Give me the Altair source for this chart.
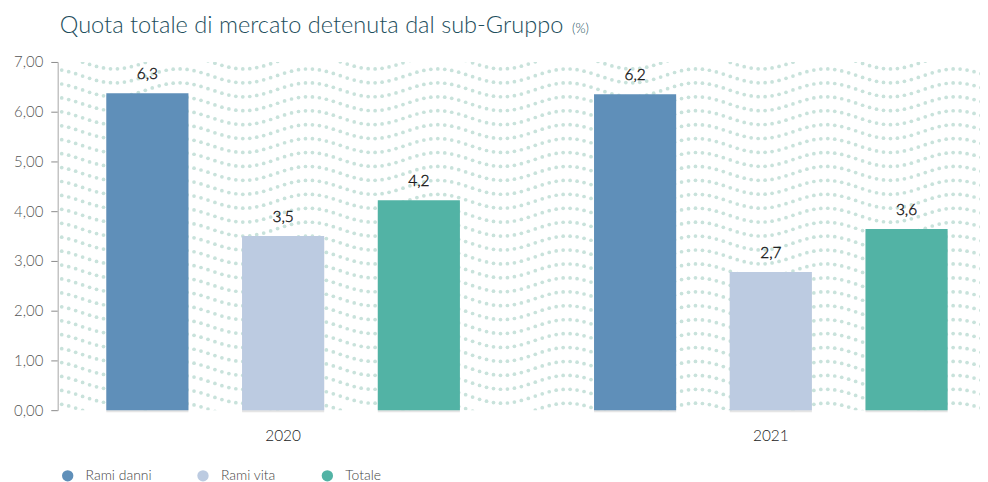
import altair as alt
import pandas as pd
import numpy as np

# ---- data ----
anni = ["2020", "2020", "2020", "2021", "2021", "2021"]
serie = ["Rami danni", "Rami vita", "Totale", "Rami danni", "Rami vita", "Totale"]
valori = [6.37, 3.50, 4.22, 6.35, 2.78, 3.64]
etichette = ["6,3", "3,5", "4,2", "6,2", "2,7", "3,6"]
legenda = ["Rami danni", "Rami vita", "Totale"]
colori = ["#5f8fb9", "#bccbe1", "#52b3a5"]
y_ticks = [0, 1, 2, 3, 4, 5, 6, 7]
titolo = "Quota totale di mercato detenuta dal sub-Gruppo"
unita = "(%)"

W, H = 927, 350
FONT = "Lato"

df = pd.DataFrame({"anno": anni, "serie": serie, "valore": valori, "etichetta": etichette})

# ---- decorative wavy dotted background texture (not data) ----
xs = np.arange(4, W + 4, 7.0)
rows = np.arange(-14, H + 21, 14.0)
pts = [(x, r + 7 * np.cos(2 * np.pi * (x + 58 - 570) / 130)) for r in rows for x in xs]
tex = pd.DataFrame(pts, columns=["px", "py"])

pattern = alt.Chart(tex).mark_circle(size=14, color="#c8e2db", opacity=1, clip=True).encode(
    x=alt.X("px:Q", scale=alt.Scale(domain=[0, W], nice=False, zero=False), axis=None),
    y=alt.Y("py:Q", scale=alt.Scale(domain=[0, H], nice=False, zero=False), axis=None),
)

xscale = alt.Scale(paddingInner=0.275, paddingOuter=0.083, align=0.6)
xenc = alt.X(
    "anno:N",
    title=None,
    scale=xscale,
    axis=alt.Axis(domain=False, ticks=False, labelPadding=18, labelFontSize=15.5,
                  labelFont=FONT, labelFontWeight=300, labelColor="#222", labelAngle=0),
)
xoff = alt.XOffset("serie:N", scale=alt.Scale(domain=legenda, paddingInner=0.395, paddingOuter=0))
yenc = alt.Y(
    "valore:Q",
    title=None,
    scale=alt.Scale(domain=[0, 7], nice=False),
    axis=alt.Axis(values=y_ticks, labelExpr="replace(format(datum.value, '.2f'), '.', ',')",
                  grid=False, domainColor="#c4c4c4", domainWidth=1.5, tickColor="#8a8a8a",
                  tickSize=7, labelPadding=8, labelFontSize=15, labelFont=FONT,
                  labelFontWeight=300, labelColor="#555"),
)

base = alt.Chart(df)

shadow = base.mark_bar(color="#a8a8a8", opacity=0.3, xOffset=3, yOffset=2).encode(
    x=xenc, xOffset=xoff, y=yenc,
)

bars = base.mark_bar().encode(
    x=xenc,
    xOffset=xoff,
    y=yenc,
    color=alt.Color(
        "serie:N",
        scale=alt.Scale(domain=legenda, range=colori),
        legend=alt.Legend(title=None, orient="none", legendX=3, legendY=409,
                          direction="horizontal", symbolType="circle", symbolSize=130,
                          symbolStrokeWidth=0, labelFontSize=14, labelFont=FONT,
                          labelFontWeight=300, labelColor="#444", labelOffset=11,
                          columnPadding=44),
    ),
)

labels = base.mark_text(dy=-19, fontSize=15.5, font=FONT, fontWeight=300, color="#1a1a1a",
                        stroke="#1a1a1a", strokeWidth=0.4).encode(
    x=xenc, xOffset=xoff, y=yenc, text="etichetta:N",
)

title_main = alt.Chart(pd.DataFrame({"t": [titolo]})).mark_text(
    fontSize=23.7, font=FONT, fontWeight=300, color="#1d4e5c", align="left", baseline="alphabetic"
).encode(x=alt.value(2), y=alt.value(-29), text="t:N")

title_unit = alt.Chart(pd.DataFrame({"t": [unita]})).mark_text(
    fontSize=13, font=FONT, fontWeight=300, color="#1d4e5c", align="left", baseline="alphabetic"
).encode(x=alt.value(517), y=alt.value(-29), text="t:N")

inner = alt.layer(shadow, bars, labels, title_main, title_unit)

chart = alt.layer(pattern, inner).resolve_scale(x="independent", y="independent").properties(
    width=W,
    height=H,
    autosize=alt.AutoSizeParams(type="none"),
    padding={"left": 50, "top": 53, "right": 0, "bottom": 77},
).configure_view(stroke=None)

chart.save("out.html", embed_options={"renderer": "svg", "actions": False})
